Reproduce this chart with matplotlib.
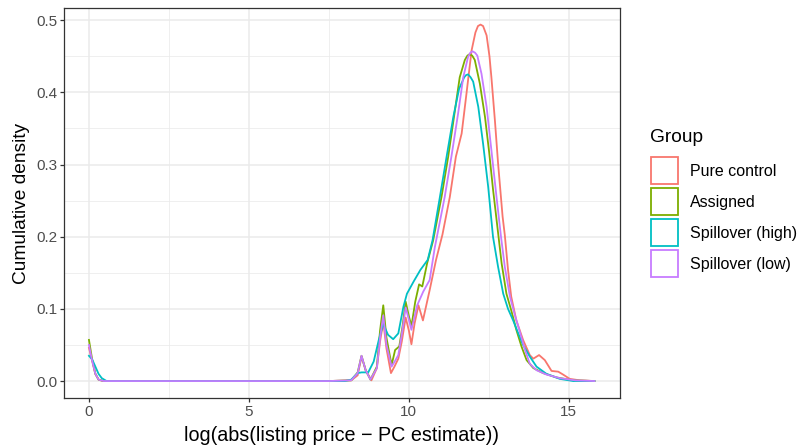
import matplotlib
matplotlib.use("Agg")
import matplotlib.pyplot as plt
from matplotlib.patches import Rectangle

plt.rcParams['font.family'] = ['Liberation Sans', 'DejaVu Sans']

# density curves
groups = ["Pure control", "Assigned", "Spillover (high)", "Spillover (low)"]
colors = ["#F8766D", "#7CAE00", "#00BFC4", "#C77CFF"]

pure_x = [0, 0.1, 0.2, 0.3, 0.45, 7.5, 8.2, 8.4, 8.52, 8.65, 8.83, 9.0, 9.1, 9.2, 9.3,
          9.44, 9.55, 9.67, 9.78, 9.9, 10.0, 10.08, 10.18, 10.3, 10.44, 10.52, 10.65,
          10.85, 11.05, 11.28, 11.47, 11.65, 11.8, 11.96, 12.08, 12.16, 12.24, 12.32,
          12.43, 12.52, 12.58, 12.69, 12.79, 12.93, 13.0, 13.1, 13.2, 13.36, 13.57, 13.78,
          13.89, 14.07, 14.25, 14.46, 14.67, 14.82, 15.03, 15.34, 15.8]
pure_y = [0.046, 0.028, 0.01, 0.002, 0.0, 0.0, 0.001, 0.008, 0.034, 0.015, 0.001, 0.018,
          0.055, 0.082, 0.045, 0.011, 0.02, 0.031, 0.055, 0.088, 0.07, 0.051, 0.08,
          0.105, 0.084, 0.1, 0.126, 0.168, 0.203, 0.255, 0.311, 0.343, 0.398, 0.458,
          0.483, 0.492, 0.494, 0.492, 0.479, 0.45, 0.421, 0.361, 0.301, 0.228, 0.202,
          0.154, 0.117, 0.084, 0.057, 0.036, 0.031, 0.036, 0.029, 0.014, 0.013, 0.009,
          0.003, 0.001, 0.0]

assigned_x = [0, 0.1, 0.2, 0.3, 0.45, 7.5, 8.2, 8.4, 8.52, 8.65, 8.8, 9.0, 9.1, 9.2, 9.3,
              9.46, 9.57, 9.7, 9.8, 9.9, 10.0, 10.08, 10.2, 10.32, 10.42, 10.57, 10.76,
              11.02, 11.23, 11.44, 11.59, 11.75, 11.83, 11.9, 11.98, 12.06, 12.22, 12.38,
              12.51, 12.63, 12.79, 12.9, 13.05, 13.2, 13.36, 13.52, 13.68, 13.89, 14.2,
              14.61, 15.14, 15.8]
assigned_y = [0.057, 0.03, 0.01, 0.002, 0.0, 0.0, 0.001, 0.012, 0.035, 0.015, 0.002, 0.02,
              0.07, 0.105, 0.06, 0.022, 0.043, 0.048, 0.075, 0.11, 0.09, 0.076, 0.11,
              0.134, 0.131, 0.163, 0.195, 0.255, 0.311, 0.375, 0.421, 0.445, 0.451, 0.453,
              0.451, 0.445, 0.412, 0.366, 0.317, 0.266, 0.205, 0.163, 0.121, 0.098, 0.071,
              0.048, 0.029, 0.018, 0.011, 0.005, 0.001, 0.0]

high_x = [0, 0.1, 0.2, 0.3, 0.4, 0.55, 7.5, 8.0, 8.2, 8.4, 8.52, 8.73, 8.9, 9.06, 9.2,
          9.35, 9.51, 9.67, 9.83, 9.94, 10.15, 10.36, 10.59, 10.74, 10.97, 11.18, 11.39,
          11.57, 11.73, 11.79, 11.85, 11.93, 12.01, 12.17, 12.32, 12.48, 12.63, 12.79,
          12.95, 13.1, 13.26, 13.42, 13.57, 13.78, 13.99, 14.3, 14.72, 15.14, 15.8]
high_y = [0.035, 0.03, 0.02, 0.01, 0.004, 0.0, 0.0, 0.0, 0.002, 0.011, 0.012, 0.012, 0.027,
          0.057, 0.079, 0.064, 0.058, 0.066, 0.103, 0.121, 0.138, 0.154, 0.168, 0.195,
          0.255, 0.311, 0.366, 0.405, 0.421, 0.424, 0.425, 0.421, 0.415, 0.38, 0.329,
          0.269, 0.2, 0.158, 0.121, 0.1, 0.084, 0.066, 0.05, 0.034, 0.02, 0.01, 0.003,
          0.0, 0.0]

low_x = [0, 0.1, 0.2, 0.3, 0.45, 7.5, 8.2, 8.4, 8.52, 8.65, 8.8, 9.0, 9.1, 9.2, 9.3, 9.46,
         9.57, 9.67, 9.78, 9.9, 10.0, 10.08, 10.26, 10.45, 10.65, 10.81, 11.12, 11.33,
         11.54, 11.7, 11.85, 11.92, 11.99, 12.07, 12.14, 12.27, 12.43, 12.58, 12.74,
         12.88, 13.0, 13.16, 13.31, 13.47, 13.63, 13.78, 13.99, 14.3, 14.72, 15.2, 15.8]
low_y = [0.05, 0.028, 0.01, 0.002, 0.0, 0.0, 0.001, 0.011, 0.035, 0.015, 0.002, 0.018, 0.06,
         0.091, 0.05, 0.02, 0.028, 0.036, 0.065, 0.102, 0.085, 0.071, 0.105, 0.124, 0.14,
         0.185, 0.255, 0.311, 0.371, 0.421, 0.449, 0.455, 0.457, 0.455, 0.451, 0.426,
         0.38, 0.32, 0.255, 0.2, 0.158, 0.117, 0.092, 0.068, 0.043, 0.024, 0.015, 0.009,
         0.004, 0.001, 0.0]

series = [(pure_x, pure_y), (assigned_x, assigned_y), (high_x, high_y), (low_x, low_y)]

fig = plt.figure(figsize=(7.99, 4.48), dpi=100)
ax = fig.add_axes([64 / 799, 1 - 398 / 448, (620 - 64) / 799, (398 - 8) / 448])

# ggplot theme_bw look
ax.set_xticks([0, 5, 10, 15])
ax.set_xticks([2.5, 7.5, 12.5], minor=True)
ax.set_yticks([0.0, 0.1, 0.2, 0.3, 0.4, 0.5])
ax.set_yticks([0.05, 0.15, 0.25, 0.35, 0.45], minor=True)
ax.set_yticklabels(["0.0", "0.1", "0.2", "0.3", "0.4", "0.5"])
ax.grid(True, which='major', color='#EBEBEB', linewidth=1.1)
ax.grid(True, which='minor', color='#EBEBEB', linewidth=0.55)
ax.set_axisbelow(True)
for s in ax.spines.values():
    s.set_color('#333333')
    s.set_linewidth(0.9)
ax.tick_params(which='major', length=3, width=0.9, color='#333333',
               labelsize=11, labelcolor='#4D4D4D', pad=2)
ax.tick_params(which='minor', length=0)

for (xs, ys), col in zip(series, colors):
    ax.plot(xs, ys, color=col, linewidth=1.3)

ax.set_xlim(-0.78, 16.6)
ax.set_ylim(-0.0235, 0.517)
ax.set_xlabel("log(abs(listing price \u2212 PC estimate))", fontsize=14.2, labelpad=5)
ax.set_ylabel("Cumulative density", fontsize=13.75, labelpad=4)

# legend drawn as ggplot-style boxes
fig.text(650 / 799, 1 - 137 / 448, "Group", fontsize=13.75, va='center', ha='left')
for i, (lab, col) in enumerate(zip(groups, colors)):
    top = 157 + 31 * i
    fig.add_artist(Rectangle((651 / 799, 1 - (top + 27) / 448), 27 / 799, 27 / 448,
                             transform=fig.transFigure, facecolor='white',
                             edgecolor=col, linewidth=1.3))
    fig.text(690 / 799, 1 - (top + 14) / 448, lab, fontsize=11.5, va='center', ha='left')

fig.savefig("out.png", dpi=100)
